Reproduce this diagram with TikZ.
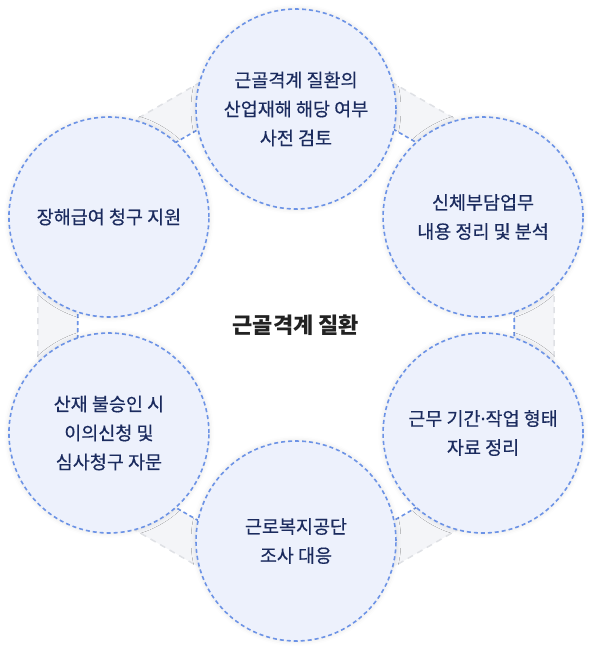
\documentclass[tikz,border=0pt]{standalone}
\usepackage{fontspec}
\setmainfont{Noto Sans CJK KR}
\newfontfamily\latinfont{Noto Sans}
\usetikzlibrary{positioning,shadows.blur}

\definecolor{circfill}{HTML}{EDF1FC}
\definecolor{circline}{HTML}{6C93E6}
\definecolor{navytext}{HTML}{1B2B5E}
\definecolor{bandfill}{HTML}{F4F5F8}
\definecolor{bandline}{HTML}{DFE1E5}
\definecolor{hubtext}{HTML}{222222}

\begin{document}
\begin{tikzpicture}[x=1pt,y=1pt,
	task/.style={circle,draw=circline,fill=circfill,line width=1.6pt,dash pattern=on 4pt off 3pt,
		minimum size=200pt,inner sep=0pt,align=center,text=navytext,
		font=\fontsize{18.5}{29}\selectfont\addfontfeature{FakeBold=0.4},
		blur shadow={shadow xshift=0pt,shadow yshift=0pt,shadow blur radius=5pt,shadow opacity=12}},
	outerline/.style={draw=bandline,line width=1.5pt,dash pattern=on 6pt off 5pt},
	innerline/.style={draw=circline,line width=1.6pt,dash pattern=on 4pt off 3pt}]
	\useasboundingbox (-296,-324) rectangle (296,325);

	% hexagon band behind the circles
	\foreach \i/\a in {1/90,2/30,3/-30,4/-90,5/-150,6/150} {
		\coordinate (o\i) at (\a:298);
		\coordinate (i\i) at (\a:252);
	}
	\fill[bandfill,even odd rule] (o1) -- (o2) -- (o3) -- (o4) -- (o5) -- (o6) -- cycle
		(i1) -- (i2) -- (i3) -- (i4) -- (i5) -- (i6) -- cycle;
	\draw[outerline] (o1) -- (o2) -- (o3) -- (o4) -- (o5) -- (o6) -- cycle;
	\draw[innerline] (i1) -- (i2) -- (i3) -- (i4) -- (i5) -- (i6) -- cycle;

	% steps
	\node[task] (review) at (90:216) {근골격계 질환의\\산업재해 해당 여부\\사전 검토};
	\node[task] (burden) at (30:216) {신체부담업무\\내용 정리 및 분석};
	\node[task] (period) at (-30:216) {근무 기간{\latinfont\addfontfeature{FakeBold=0.4}·}작업 형태\\자료 정리};
	\node[task] (survey) at (-90:216) {근로복지공단\\조사 대응};
	\node[task] (appeal) at (-150:216) {산재 불승인 시\\이의신청 및\\심사청구 자문};
	\node[task] (benefit) at (150:216) {장해급여 청구 지원};

	\node[text=hubtext,font=\bfseries\fontsize{22}{26}\selectfont] (hub) at (0,0) {근골격계 질환};
\end{tikzpicture}
\end{document}
